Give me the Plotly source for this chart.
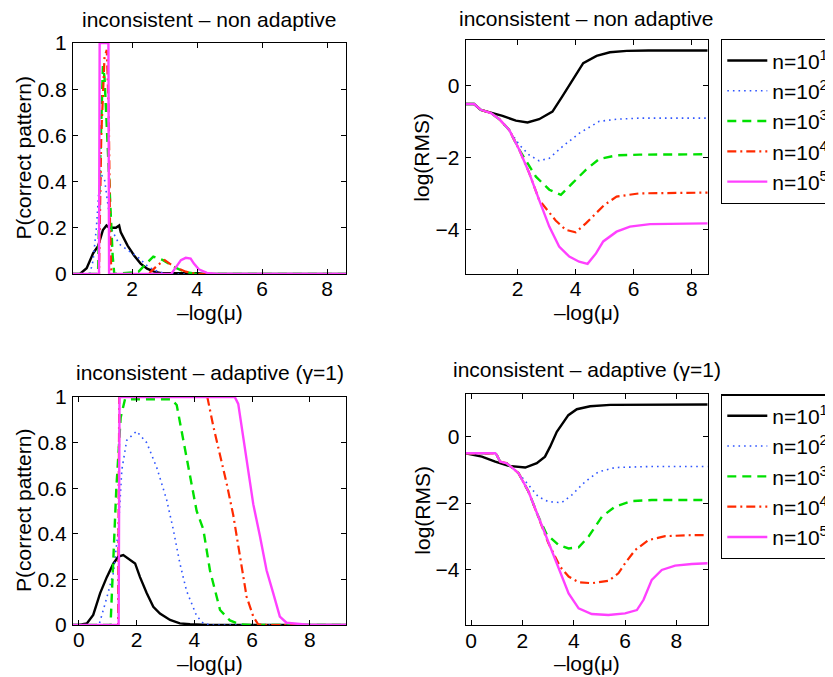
import plotly.graph_objects as go

W, H = 833, 677
OFF = 8  # page body margin: the figure is drawn 8 px right and down
FONT = "Liberation Sans"
FS = 21

# ---------------- data: top-left, P(correct pattern), non adaptive ----------------
tl_x_n1 = [0.18, 0.39, 0.6, 0.8, 0.95, 1.1, 1.21, 1.3, 1.39, 1.5, 1.6, 1.65, 1.86, 2.06, 2.26, 2.46, 2.67, 2.9, 3.3, 3.7, 4.0, 4.2, 8.58]
tl_y_n1 = [0.0, 0.0, 0.025, 0.09, 0.12, 0.19, 0.21, 0.2, 0.2, 0.2, 0.21, 0.18, 0.123, 0.08, 0.045, 0.023, 0.01, 0.004, 0.003, 0.004, 0.003, 0.0, 0.0]
tl_x_n2 = [0.18, 0.7, 0.8, 0.9, 0.97, 1.05, 1.15, 1.25, 1.35, 1.45, 1.6, 1.9, 2.2, 2.5, 2.8, 3.1, 8.58]
tl_y_n2 = [0.0, 0.0, 0.06, 0.2, 0.35, 0.43, 0.41, 0.3, 0.2, 0.17, 0.13, 0.1, 0.07, 0.03, 0.01, 0.0, 0.0]
tl_x_n3 = [0.18, 0.95, 1.02, 1.08, 1.1, 1.15, 1.2, 1.25, 1.3, 1.35, 1.4, 1.45, 2.2, 2.4, 2.65, 2.95, 3.3, 3.6, 4.0, 8.58]
tl_y_n3 = [0.0, 0.0, 0.5, 0.88, 0.9, 0.85, 0.7, 0.55, 0.35, 0.2, 0.08, 0.0, 0.01, 0.04, 0.075, 0.06, 0.03, 0.01, 0.0, 0.0]
tl_x_n4 = [0.18, 0.98, 1.05, 1.15, 1.22, 1.28, 1.32, 1.36, 2.5, 2.8, 3.0, 3.25, 3.65, 4.0, 8.58]
tl_y_n4 = [0.0, 0.0, 0.6, 0.94, 0.97, 0.7, 0.2, 0.0, 0.0, 0.04, 0.06, 0.035, 0.01, 0.0, 0.0]
tl_x_n5 = [0.18, 0.98, 1.0, 1.27, 1.29, 3.2, 3.35, 3.5, 3.65, 3.8, 3.9, 4.05, 4.3, 4.6, 8.58]
tl_y_n5 = [0.0, 0.0, 1.0, 1.0, 0.0, 0.0, 0.03, 0.06, 0.07, 0.067, 0.045, 0.02, 0.005, 0.0, 0.0]

# ---------------- data: top-right, log(RMS), non adaptive ----------------
tr_x_n1 = [0.21, 0.5, 0.73, 1.08, 1.48, 1.94, 2.34, 2.74, 3.0, 3.2, 3.54, 3.89, 4.26, 4.72, 5.18, 5.76, 6.5, 8.55]
tr_y_n1 = [-0.52, -0.52, -0.68, -0.75, -0.85, -0.98, -1.03, -0.94, -0.83, -0.73, -0.31, 0.15, 0.61, 0.81, 0.91, 0.95, 0.96, 0.96]
tr_x_n2 = [0.21, 0.5, 0.73, 1.08, 1.37, 1.71, 2.06, 2.4, 2.74, 3.09, 3.54, 4.12, 4.81, 5.41, 6.2, 8.55]
tr_y_n2 = [-0.52, -0.52, -0.68, -0.77, -0.94, -1.24, -1.65, -1.93, -2.09, -2.02, -1.7, -1.33, -1.0, -0.94, -0.91, -0.91]
tr_x_n3 = [0.21, 0.5, 0.73, 1.08, 1.37, 1.71, 2.06, 2.28, 2.63, 3.09, 3.49, 3.89, 4.35, 4.81, 5.41, 6.2, 8.55]
tr_y_n3 = [-0.52, -0.52, -0.68, -0.77, -0.94, -1.24, -1.79, -2.07, -2.53, -2.89, -3.03, -2.71, -2.34, -2.04, -1.94, -1.92, -1.91]
tr_x_n4 = [0.21, 0.5, 0.73, 1.08, 1.37, 1.71, 2.06, 2.4, 2.74, 2.97, 3.31, 3.66, 4.0, 4.35, 4.7, 4.99, 5.41, 6.2, 8.55]
tr_y_n4 = [-0.52, -0.52, -0.68, -0.77, -0.94, -1.24, -1.79, -2.43, -3.17, -3.4, -3.74, -4.0, -4.07, -3.82, -3.54, -3.31, -3.08, -2.99, -2.97]
tr_x_n5 = [0.21, 0.5, 0.73, 1.08, 1.37, 1.71, 2.06, 2.4, 2.74, 3.09, 3.43, 3.78, 4.12, 4.41, 4.7, 4.95, 5.41, 5.87, 6.56, 8.55]
tr_y_n5 = [-0.52, -0.52, -0.68, -0.77, -0.94, -1.24, -1.79, -2.43, -3.17, -3.91, -4.46, -4.74, -4.88, -4.94, -4.65, -4.32, -4.05, -3.91, -3.84, -3.82]

# ---------------- data: bottom-left, P(correct pattern), adaptive ----------------
bl_x_n1 = [-0.2, 0.0, 0.28, 0.5, 0.74, 0.97, 1.2, 1.37, 1.54, 1.78, 1.95, 2.12, 2.35, 2.58, 2.81, 3.16, 3.5, 3.85, 4.5, 9.25]
bl_y_n1 = [0.0, 0.0, 0.007, 0.044, 0.14, 0.21, 0.27, 0.3, 0.307, 0.285, 0.27, 0.21, 0.14, 0.08, 0.05, 0.022, 0.007, 0.003, 0.0, 0.0]
bl_x_n2 = [-0.2, 0.7, 0.97, 1.2, 1.37, 1.49, 1.66, 2.0, 2.35, 2.7, 3.04, 3.27, 3.5, 3.73, 4.08, 4.31, 4.6, 9.25]
bl_y_n2 = [0.0, 0.0, 0.12, 0.23, 0.42, 0.68, 0.81, 0.85, 0.8, 0.69, 0.55, 0.42, 0.27, 0.15, 0.04, 0.007, 0.0, 0.0]
bl_x_n3 = [-0.2, 1.1, 1.3, 1.45, 1.6, 3.2, 3.39, 3.73, 4.08, 4.31, 4.54, 4.89, 5.23, 5.58, 6.0, 9.25]
bl_y_n3 = [0.0, 0.0, 0.6, 0.91, 0.99, 0.99, 0.965, 0.74, 0.5, 0.42, 0.24, 0.066, 0.02, 0.003, 0.0, 0.0]
bl_x_n4 = [-0.2, 1.36, 1.4, 4.45, 4.66, 4.89, 5.12, 5.35, 5.58, 5.81, 6.04, 6.21, 6.5, 9.25]
bl_y_n4 = [0.0, 0.0, 1.0, 1.0, 0.87, 0.75, 0.62, 0.48, 0.3, 0.124, 0.037, 0.003, 0.0, 0.0]
bl_x_n5 = [-0.2, 1.38, 1.41, 5.4, 5.52, 5.69, 5.87, 6.04, 6.27, 6.5, 6.73, 6.96, 7.19, 7.65, 8.0, 9.25]
bl_y_n5 = [0.0, 0.0, 1.0, 1.0, 0.97, 0.83, 0.68, 0.53, 0.39, 0.24, 0.14, 0.037, 0.01, 0.003, 0.0, 0.0]

# ---------------- data: bottom-right, log(RMS), adaptive ----------------
br_x_n1 = [-0.21, 0.42, 0.94, 1.46, 2.11, 2.56, 2.88, 3.08, 3.34, 3.79, 4.12, 4.64, 5.42, 6.71, 9.22]
br_y_n1 = [-0.5, -0.6, -0.75, -0.88, -0.93, -0.8, -0.6, -0.3, 0.15, 0.65, 0.83, 0.92, 0.96, 0.97, 0.97]
br_x_n2 = [-0.21, 0.94, 1.0, 1.13, 1.39, 1.85, 2.24, 2.62, 3.01, 3.53, 3.92, 4.44, 4.96, 5.61, 6.91, 9.22]
br_y_n2 = [-0.5, -0.5, -0.55, -0.75, -0.8, -1.1, -1.46, -1.81, -1.96, -1.99, -1.76, -1.36, -1.06, -0.93, -0.9, -0.9]
br_x_n3 = [-0.21, 0.94, 1.0, 1.13, 1.39, 1.85, 2.24, 2.62, 2.95, 3.41, 3.8, 4.19, 4.58, 5.1, 5.61, 6.26, 7.04, 9.22]
br_y_n3 = [-0.5, -0.5, -0.55, -0.75, -0.8, -1.1, -1.66, -2.41, -2.95, -3.27, -3.37, -3.34, -3.01, -2.41, -2.11, -1.94, -1.91, -1.91]
br_x_n4 = [-0.21, 0.94, 1.0, 1.13, 1.39, 1.85, 2.24, 2.62, 3.01, 3.47, 3.8, 4.19, 4.7, 5.35, 5.74, 6.0, 6.39, 6.91, 7.56, 8.6, 9.22]
br_y_n4 = [-0.5, -0.5, -0.55, -0.75, -0.8, -1.1, -1.66, -2.41, -3.21, -3.92, -4.22, -4.39, -4.42, -4.35, -4.12, -3.82, -3.42, -3.12, -3.0, -2.97, -2.97]
br_x_n5 = [-0.21, 0.94, 1.0, 1.13, 1.39, 1.85, 2.24, 2.62, 3.01, 3.41, 3.8, 4.19, 4.7, 5.35, 6.0, 6.46, 6.72, 7.04, 7.43, 7.95, 8.6, 9.22]
br_y_n5 = [-0.5, -0.5, -0.55, -0.75, -0.8, -1.1, -1.66, -2.41, -3.21, -4.02, -4.73, -5.18, -5.35, -5.38, -5.33, -5.23, -4.92, -4.32, -4.02, -3.89, -3.84, -3.82]

series_names = ["n=10<sup>1</sup>", "n=10<sup>2</sup>", "n=10<sup>3</sup>", "n=10<sup>4</sup>", "n=10<sup>5</sup>"]
panel_titles = ["inconsistent – non adaptive", "inconsistent – non adaptive",
                "inconsistent – adaptive (γ=1)", "inconsistent – adaptive (γ=1)"]
xlabel = "–log(μ)"
ylabels = ["P(correct pattern)", "log(RMS)"]

styles = [
    dict(color="#000000", width=2.4, dash="solid"),
    dict(color="#2f55ff", width=1.6, dash="1.6px,4px"),
    dict(color="#00e000", width=2.4, dash="9px,6px"),
    dict(color="#ff2a00", width=2.2, dash="9px,4px,2px,4px"),
    dict(color="#ff40ff", width=2.4, dash="solid"),
]

panels = [
    ("x", "y", [(tl_x_n1, tl_y_n1), (tl_x_n2, tl_y_n2), (tl_x_n3, tl_y_n3), (tl_x_n4, tl_y_n4), (tl_x_n5, tl_y_n5)], None),
    ("x2", "y2", [(tr_x_n1, tr_y_n1), (tr_x_n2, tr_y_n2), (tr_x_n3, tr_y_n3), (tr_x_n4, tr_y_n4), (tr_x_n5, tr_y_n5)], "legend"),
    ("x3", "y3", [(bl_x_n1, bl_y_n1), (bl_x_n2, bl_y_n2), (bl_x_n3, bl_y_n3), (bl_x_n4, bl_y_n4), (bl_x_n5, bl_y_n5)], None),
    ("x4", "y4", [(br_x_n1, br_y_n1), (br_x_n2, br_y_n2), (br_x_n3, br_y_n3), (br_x_n4, br_y_n4), (br_x_n5, br_y_n5)], "legend2"),
]

fig = go.Figure()
for xa, ya, data, leg in panels:
    for i, (xs, ys) in enumerate(data):
        kw = dict(x=xs, y=ys, xaxis=xa, yaxis=ya, mode="lines", line=styles[i],
                  name=series_names[i], showlegend=leg is not None)
        if leg is not None:
            kw["legend"] = leg
        fig.add_trace(go.Scatter(**kw))

def fx(p):
    return (p - OFF) / W

def fy(p):
    return 1 - (p - OFF) / H

boxes = {
    "": ((73, 346), (43, 274), [0.18, 8.58], [0, 1], [2, 4, 6, 8], [0, 0.2, 0.4, 0.6, 0.8, 1]),
    "2": ((465.7, 707.7), (40, 274), [0.21, 8.55], [-5.22, 1.25], [2, 4, 6, 8], [-4, -2, 0]),
    "3": ((73, 346), (397, 625), [-0.2, 9.25], [0, 1], [0, 2, 4, 6, 8], [0, 0.2, 0.4, 0.6, 0.8, 1]),
    "4": ((465.7, 707.7), (394.3, 625.3), [-0.21, 9.22], [-5.69, 1.28], [0, 2, 4, 6, 8], [-4, -2, 0]),
}

axis_common = dict(showline=True, linecolor="black", linewidth=1.3, mirror="ticks",
                   ticks="inside", ticklen=5, tickwidth=1, tickcolor="black",
                   showgrid=False, zeroline=False,
                   tickfont=dict(family=FONT, size=FS, color="black"))

layout = {}
for k, ((x0, x1), (y0, y1), xr, yr, xt, yt) in boxes.items():
    layout["xaxis" + k] = dict(domain=[fx(x0), fx(x1)], range=xr, tickvals=xt, anchor="y" + k,
                               ticklabelstandoff=-4, **axis_common)
    layout["yaxis" + k] = dict(domain=[fy(y1), fy(y0)], range=yr, tickvals=yt, anchor="x" + k,
                               ticklabelstandoff=1, **axis_common)

fig.update_layout(**layout)

anns = []
title_pos = [(209.5, 19.5), (586.7, 18.5), (209.5, 372.7), (586.7, 369)]
for t, (px, py) in zip(panel_titles, title_pos):
    anns.append(dict(text=t, x=fx(px), y=fy(py), xref="paper", yref="paper",
                     xanchor="center", yanchor="middle", showarrow=False,
                     font=dict(family=FONT, size=FS, color="black")))
xlab_pos = [(209.5, 312), (586.7, 312), (209.5, 663), (586.7, 663)]
for px, py in xlab_pos:
    anns.append(dict(text=xlabel, x=fx(px), y=fy(py), xref="paper", yref="paper",
                     xanchor="center", yanchor="middle", showarrow=False,
                     font=dict(family=FONT, size=FS, color="black")))
ylab_pos = [(23, 158.5, 0), (421.7, 157, 1), (23, 511, 0), (421.7, 510, 1)]
for px, py, li in ylab_pos:
    anns.append(dict(text=ylabels[li], x=fx(px), y=fy(py), xref="paper", yref="paper",
                     xanchor="center", yanchor="middle", showarrow=False, textangle=-90,
                     font=dict(family=FONT, size=FS, color="black")))

leg_common = dict(xanchor="left", yanchor="top", bgcolor="white", bordercolor="black",
                  borderwidth=1.3, font=dict(family=FONT, size=FS, color="black"),
                  itemwidth=40, tracegroupgap=0, itemclick=False)
fig.update_layout(
    width=W, height=H,
    margin=dict(l=0, r=0, t=0, b=0, autoexpand=False),
    paper_bgcolor="white", plot_bgcolor="white",
    font=dict(family=FONT, size=FS, color="black"),
    annotations=anns,
    legend=dict(x=fx(721), y=fy(39), **leg_common),
    legend2=dict(x=fx(721), y=fy(394.3), **leg_common),
)

fig.write_html("out.html")
